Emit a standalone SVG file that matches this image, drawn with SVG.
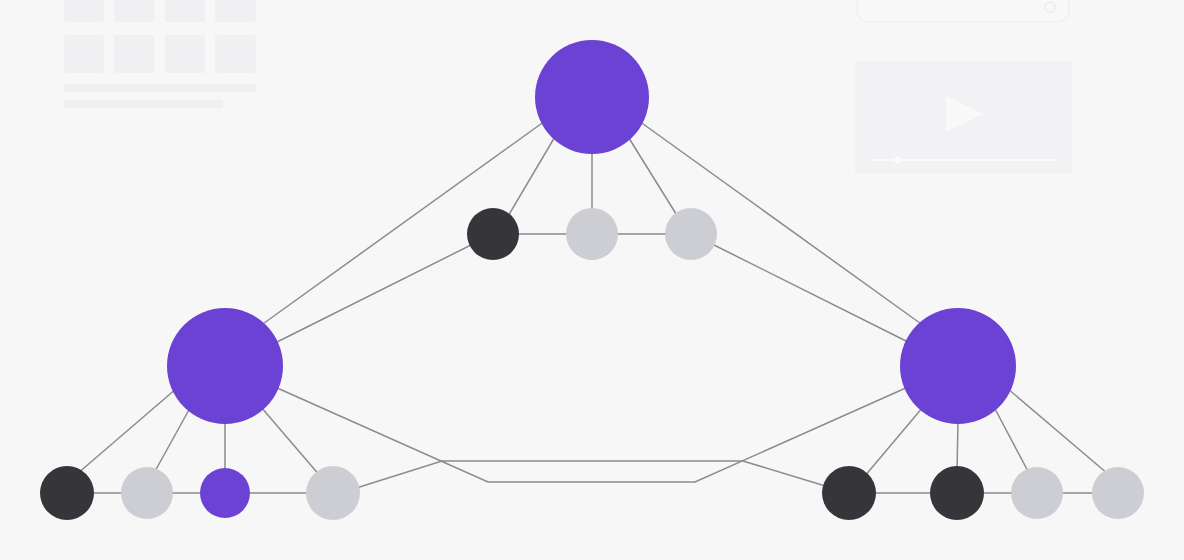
<svg xmlns="http://www.w3.org/2000/svg" width="1184" height="560" viewBox="0 0 1184 560">
<style>
.bg{fill:#f0f0f2}
.e{stroke:#8b8b90;stroke-width:1.5;fill:none}
.p{fill:#6b42d3}
.d{fill:#35353a}
.g{fill:#cdced4}
</style>
<rect width="1184" height="560" fill="#f7f7f8"/>
<g id="background">
<rect class="bg" x="64" y="-4" width="40" height="26" rx="2"/>
<rect class="bg" x="114" y="-4" width="40" height="26" rx="2"/>
<rect class="bg" x="165" y="-4" width="40" height="26" rx="2"/>
<rect class="bg" x="215" y="-4" width="41" height="26" rx="2"/>
<rect class="bg" x="64" y="35" width="40" height="38" rx="2"/>
<rect class="bg" x="114" y="35" width="40" height="38" rx="2"/>
<rect class="bg" x="165" y="35" width="40" height="38" rx="2"/>
<rect class="bg" x="215" y="35" width="41" height="38" rx="2"/>
<rect class="bg" x="64" y="84" width="192" height="8"/>
<rect class="bg" x="64" y="100" width="159" height="8"/>
<rect x="857" y="-6" width="212" height="28" rx="12" fill="#f8f8f9" stroke="#efeff1" stroke-width="1.5"/>
<circle cx="1050" cy="7" r="5" fill="none" stroke="#ececee" stroke-width="1.5"/>
<rect x="855" y="61" width="217" height="112" fill="#f2f2f4"/>
<polygon points="946,96 984,114 946,132" fill="#f9f9fa"/>
<line x1="872" y1="160" x2="1058" y2="160" stroke="#fafafb" stroke-width="2"/>
<circle cx="898" cy="160" r="4" fill="#fafafb"/>
</g>
<g id="connectors">
<line class="e" x1="545" y1="121" x2="260" y2="326"/>
<line class="e" x1="639" y1="121" x2="924" y2="326"/>
<line class="e" x1="556" y1="135" x2="507" y2="218"/>
<line class="e" x1="592" y1="150" x2="592" y2="212"/>
<line class="e" x1="627" y1="135" x2="678" y2="217"/>
<line class="e" x1="493" y1="234" x2="691" y2="234"/>
<line class="e" x1="475" y1="243" x2="275" y2="343"/>
<line class="e" x1="710" y1="243" x2="910" y2="343"/>
<line class="e" x1="177" y1="388" x2="77" y2="474"/>
<line class="e" x1="190" y1="408" x2="154" y2="473"/>
<line class="e" x1="225" y1="420" x2="225" y2="472"/>
<line class="e" x1="261" y1="407" x2="321" y2="477"/>
<line class="e" x1="67" y1="493" x2="333" y2="493"/>
<line class="e" x1="923" y1="407" x2="864" y2="477"/>
<line class="e" x1="958" y1="420" x2="957" y2="472"/>
<line class="e" x1="994" y1="407" x2="1030" y2="475"/>
<line class="e" x1="1007" y1="388" x2="1108" y2="474"/>
<line class="e" x1="849" y1="493" x2="1118" y2="493"/>
<polyline class="e" points="275,387 488,482 695,482 908,387"/>
<polyline class="e" points="350,490 442,461 743,461 832,488"/>
</g>
<g id="top-hub"><circle class="p" cx="592" cy="97" r="57"/></g>
<g id="left-hub"><circle class="p" cx="225" cy="366" r="58"/></g>
<g id="right-hub"><circle class="p" cx="958" cy="366" r="58"/></g>
<g id="top-1"><circle class="d" cx="493" cy="234" r="26"/></g>
<g id="top-2"><circle class="g" cx="592" cy="234" r="26"/></g>
<g id="top-3"><circle class="g" cx="691" cy="234" r="26"/></g>
<g id="left-1"><circle class="d" cx="67" cy="493" r="27"/></g>
<g id="left-2"><circle class="g" cx="147" cy="493" r="26"/></g>
<g id="left-3"><circle class="p" cx="225" cy="493" r="25"/></g>
<g id="left-4"><circle class="g" cx="333" cy="493" r="27"/></g>
<g id="right-1"><circle class="d" cx="849" cy="493" r="27"/></g>
<g id="right-2"><circle class="d" cx="957" cy="493" r="27"/></g>
<g id="right-3"><circle class="g" cx="1037" cy="493" r="26"/></g>
<g id="right-4"><circle class="g" cx="1118" cy="493" r="26"/></g>
</svg>
